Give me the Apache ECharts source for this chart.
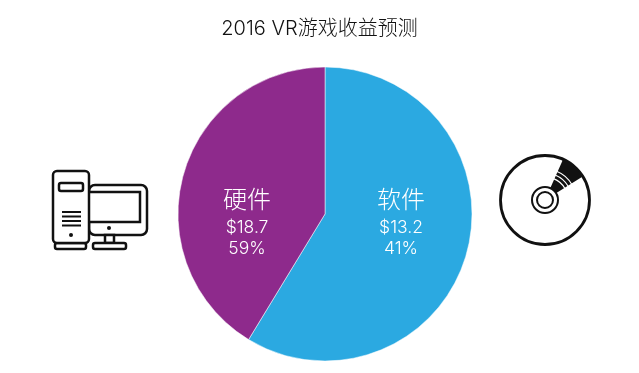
<!DOCTYPE html>
<html>
<head>
    <meta charset="utf-8">
    <title>2016 VR游戏收益预测</title>
    <script src="https://cdn.jsdelivr.net/npm/echarts@6/dist/echarts.min.js"></script>
    <style type="text/css">
        *{margin: 0;padding: 0;}
        body{background: #fff;overflow: hidden;}
    </style>
</head>
<body>
<div id="main" style="width: 639px;height: 373px;"></div>
<script type="text/javascript">
    var titleText = '2016 VR游戏收益预测';
    var categories = ['软件', '硬件'];
    var revenueLabels = ['$13.2', '$18.7'];
    var shareLabels = ['41%', '59%'];
    // slice sizes as drawn in the picture: the blue slice is the big one, whatever its label says
    var drawnShares = [58.7, 41.3];
    var sliceColors = ['#2BA9E1', '#8E2A8C'];

    var fontName = 'Inter,"Noto Sans CJK SC",sans-serif';
    var labelPos = [[401, 222], [247, 222]];
    var ink = '#111';

    function box(x, y, w, h, r) {
        return {type: 'rect', shape: {x: x, y: y, width: w, height: h, r: r || 0},
            style: {fill: '#fff', stroke: ink, lineWidth: 2.5}};
    }
    function bar(x1, x2, y) {
        return {type: 'line', shape: {x1: x1, y1: y, x2: x2, y2: y}, style: {stroke: ink, lineWidth: 2}};
    }
    function ring(cx, cy, r, w, fill) {
        return {type: 'circle', shape: {cx: cx, cy: cy, r: r}, style: {fill: fill, stroke: ink, lineWidth: w}};
    }
    function dot(cx, cy, r) {
        return {type: 'circle', shape: {cx: cx, cy: cy, r: r}, style: {fill: ink}};
    }
    function deg(a) {
        return a * Math.PI / 180;
    }
    function groove(r) {
        return {type: 'arc', shape: {cx: 545, cy: 200, r: r, startAngle: deg(-68), endAngle: deg(-30)},
            style: {stroke: '#fff', fill: 'none', lineWidth: 1.2}};
    }

    // computer and disc icons at the two sides of the pie
    var icons = [
        box(89, 185, 58, 50, 6),
        box(86, 192, 54, 30),
        dot(109, 228, 2),
        box(105, 235, 9, 8),
        box(93, 243, 33, 6, 2),
        box(55, 243, 31, 6, 2),
        box(53, 171, 36, 72, 4),
        box(59, 183, 24, 8, 2),
        bar(62, 81, 212),
        bar(62, 81, 216.5),
        bar(62, 81, 221),
        bar(62, 81, 225.5),
        dot(71, 235, 2),
        ring(545, 200, 44.5, 2.8, '#fff'),
        {type: 'sector', shape: {cx: 545, cy: 200, r: 44, r0: 12, startAngle: deg(-66), endAngle: deg(-32)},
            style: {fill: ink}},
        groove(23),
        groove(27),
        groove(31),
        ring(545, 200, 13, 2, '#fff'),
        ring(545, 200, 8, 2, '#fff')
    ];

    var pieData = [];
    for (var i = 0; i < categories.length; i++) {
        pieData.push({
            name: categories[i],
            value: drawnShares[i],
            itemStyle: {color: sliceColors[i]},
            label: {formatter: '{n|' + categories[i] + '}\n{v|' + revenueLabels[i] + '}\n{v|' + shareLabels[i] + '}'}
        });
    }

    var myChart = echarts.init(document.getElementById('main'));
    var option = {
        backgroundColor: '#fff',
        animation: false,
        title: {
            text: titleText,
            left: 'center',
            top: 14,
            textStyle: {fontFamily: fontName, fontSize: 20, fontWeight: 300, color: '#111'}
        },
        graphic: icons,
        series: [
            {
                type: 'pie',
                center: [325, 214],
                radius: [0, 147],
                startAngle: 90,
                clockwise: true,
                silent: true,
                itemStyle: {borderColor: '#fff', borderWidth: 0.5},
                label: {
                    show: true,
                    position: 'inside',
                    color: '#fff',
                    fontFamily: fontName,
                    rich: {
                        n: {fontFamily: fontName, fontSize: 24, fontWeight: 300, lineHeight: 32, color: '#fff', align: 'center'},
                        v: {fontFamily: fontName, fontSize: 17.5, fontWeight: 300, lineHeight: 21, color: '#fff', align: 'center'}
                    }
                },
                labelLine: {show: false},
                labelLayout: function (params) {
                    return {x: labelPos[params.dataIndex][0], y: labelPos[params.dataIndex][1], align: 'center', verticalAlign: 'middle'};
                },
                data: pieData
            }
        ]
    };
    myChart.setOption(option);
</script>
</body>
</html>
